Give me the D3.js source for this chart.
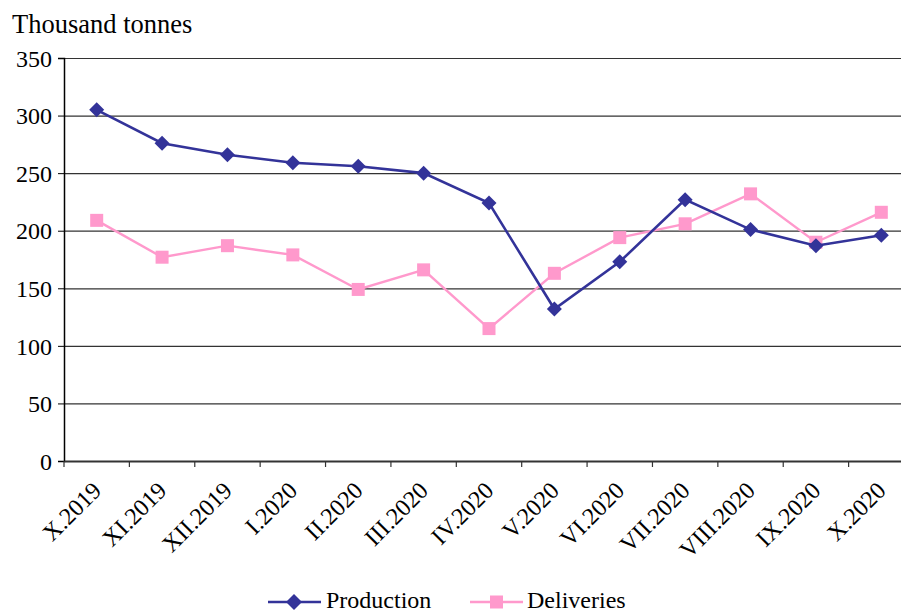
<!DOCTYPE html>
<html><head><meta charset="utf-8">
<script src="https://cdn.jsdelivr.net/npm/d3@7"></script>
<style>body{margin:0;background:#fff}svg{display:block}text{font-family:"Liberation Serif","Times New Roman",serif;fill:#000}</style>
</head><body>
<svg id="c" width="901" height="612"></svg>
<script>
const categories = ["X.2019","XI.2019","XII.2019","I.2020","II.2020","III.2020","IV.2020","V.2020","VI.2020","VII.2020","VIII.2020","IX.2020","X.2020"];
const production = [305,276,266,259,256,250,224,132,173,227,201,187,196];
const deliveries = [209,177,187,179,149,166,115,163,194,206,232,190,216];
const yTicks = [0,50,100,150,200,250,300,350];
const seriesNames = ["Production","Deliveries"];

const svg = d3.select("#c");
const pL = 64, pR = 914, pT = 58, pB = 461;
const x = d3.scaleBand().domain(categories).range([pL, pR]);
const y = d3.scaleLinear().domain([0,350]).range([pB, pT]);
const FONT = '"Liberation Serif","Times New Roman",serif';

// grid
svg.append("g").selectAll("line").data(yTicks.filter(d=>d>0)).join("line")
  .attr("x1", pL).attr("x2", pR).attr("y1", d=>y(d)+0.5).attr("y2", d=>y(d)+0.5)
  .attr("stroke", "#333").attr("stroke-width", 1.2);

// y axis
const ya = svg.append("g").attr("transform", `translate(${pL},0)`)
  .call(d3.axisLeft(y).tickValues(yTicks).tickSize(6).tickPadding(6));
ya.select(".domain").attr("stroke","#000").attr("stroke-width",1.5);
ya.selectAll(".tick line").attr("stroke","#000");
ya.selectAll("text").style("font-family",FONT).style("font-size","24px").attr("fill","#000").attr("dy","0.34em");

// x axis
const xa = svg.append("g").attr("transform", `translate(0,${pB})`)
  .call(d3.axisBottom(x).tickSize(0).tickFormat(""));
xa.select(".domain").attr("stroke","#333").attr("stroke-width",2);
svg.append("g").selectAll("line").data(d3.range(categories.length+1)).join("line")
  .attr("x1", i=>pL + i*x.step()).attr("x2", i=>pL + i*x.step())
  .attr("y1", pB).attr("y2", pB+6).attr("stroke","#333").attr("stroke-width",1.2);
svg.append("g").selectAll("text").data(categories).join("text")
  .attr("transform", d=>`translate(${x(d)+x.bandwidth()/2+6},${pB+31}) rotate(-45)`)
  .attr("text-anchor","end")
  .style("font-size","24px").text(d=>d);

// title
svg.append("text").attr("x", 12).attr("y", 33).style("font-size","26.5px").text("Thousand tonnes");

const cx = (d,i)=>x(categories[i]) + x.bandwidth()/2;
const line = d3.line().x(cx).y(d=>y(d));
const pCol = "#333399", dCol = "#FF99CC";

svg.append("path").datum(deliveries).attr("d", line).attr("fill","none").attr("stroke",dCol).attr("stroke-width",2.4);
svg.append("g").selectAll("rect").data(deliveries).join("rect")
  .attr("x",(d,i)=>cx(d,i)-6.5).attr("y",d=>y(d)-6.5).attr("width",13).attr("height",13).attr("fill",dCol);

svg.append("path").datum(production).attr("d", line).attr("fill","none").attr("stroke",pCol).attr("stroke-width",2.6);
svg.append("g").selectAll("path").data(production).join("path")
  .attr("d", "M0,-7.5L7.5,0L0,7.5L-7.5,0Z")
  .attr("transform",(d,i)=>`translate(${cx(d,i)},${y(d)})`).attr("fill",pCol);

// legend
const lg = svg.append("g");
lg.append("line").attr("x1",268).attr("x2",321).attr("y1",602).attr("y2",602).attr("stroke",pCol).attr("stroke-width",2.6);
lg.append("path").attr("d","M0,-8L8,0L0,8L-8,0Z").attr("transform","translate(294,602)").attr("fill",pCol);
lg.append("text").attr("x",326).attr("y",608).style("font-size","24px").text(seriesNames[0]);
lg.append("line").attr("x1",470).attr("x2",523).attr("y1",602).attr("y2",602).attr("stroke",dCol).attr("stroke-width",2.4);
lg.append("rect").attr("x",490).attr("y",595.5).attr("width",13).attr("height",13).attr("fill",dCol);
lg.append("text").attr("x",527).attr("y",608).style("font-size","24px").text(seriesNames[1]);
</script>
</body></html>
